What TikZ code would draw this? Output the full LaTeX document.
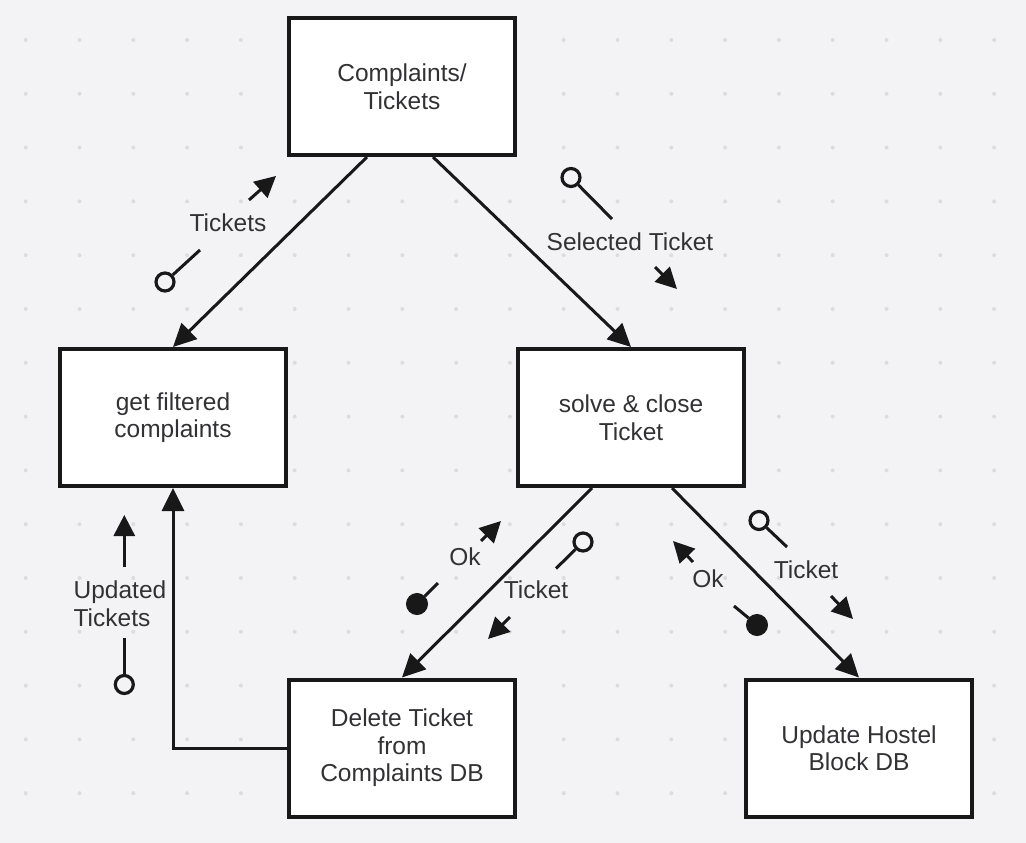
\documentclass[tikz,border=0pt]{standalone}
\usepackage{fontspec}
\setmainfont{Liberation Sans}
\usetikzlibrary{arrows.meta}
\definecolor{bg}{RGB}{243,243,245}
\definecolor{griddot}{RGB}{220,220,224}
\definecolor{ink}{RGB}{24,24,24}
\definecolor{txt}{RGB}{50,50,52}
\tikzset{
  procbox/.style={draw=ink, line width=4pt, fill=white, minimum width=226pt, minimum height=137pt, inner sep=0pt, align=center, text=txt, font=\fontsize{24.5pt}{27.5pt}\selectfont},
  conn/.style={draw=ink, line width=3pt, -{Triangle[length=23pt,width=22pt]}},
  lbl/.style={text=txt, font=\fontsize{24.5pt}{28pt}\selectfont, inner sep=0pt},
  opencirc/.style={circle, draw=ink, line width=3.2pt, fill=bg, minimum size=18pt, inner sep=0pt},
  fullcirc/.style={circle, fill=ink, draw=ink, line width=1pt, minimum size=21pt, inner sep=0pt},
  cline/.style={draw=ink, line width=3pt},
  flow/.style={draw=ink, line width=3pt, -{Triangle[length=21pt,width=21pt]}}
}
\begin{document}
\begin{tikzpicture}[x=1pt,y=-1pt]
\useasboundingbox (0,0) rectangle (1026,843);
\fill[bg] (0,0) rectangle (1026,843);
\foreach \i in {0,...,18}{
  \foreach \j in {0,...,14}{
    \fill[griddot] (25.7+53.8*\i, 40+53.8*\j) circle (2pt);
  }
}
% boxes
\node[procbox] (cmp) at (402,86.5) {Complaints/\\Tickets};
\node[procbox] (gf) at (173,417.5) {get filtered\\complaints};
\node[procbox] (sc) at (631,417.5) {solve \& close\\Ticket};
\node[procbox] (del) at (402,748) {Delete Ticket\\from\\Complaints DB};
\node[procbox] (upd) at (859,748) {Update Hostel\\Block DB};
% connectors
\draw[conn] ([xshift=-35pt]cmp.south) -- (gf.north);
\draw[conn] ([xshift=31pt]cmp.south) -- (sc.north);
\draw[conn] ([xshift=-39pt]sc.south) -- (del.north);
\draw[conn] ([xshift=41pt]sc.south) -- (upd.north);
\draw[conn] (del.west) -| (gf.south);
% couple: Tickets
\node[opencirc] (c1) at (165,282) {};
\coordinate (e1) at (200,250);
\draw[cline] (c1) -- (e1);
\node[lbl] (l1) at (228,222.5) {Tickets};
\coordinate (a1s) at (249,200);
\coordinate (a1e) at (276,176);
\draw[flow] (a1s) -- (a1e);
% couple: Selected Ticket
\node[opencirc] (c2) at (571,177.5) {};
\coordinate (e2) at (612,219);
\draw[cline] (c2) -- (e2);
\node[lbl] (l2) at (630,242) {Selected Ticket};
\coordinate (a2s) at (655,267);
\coordinate (a2e) at (677,289);
\draw[flow] (a2s) -- (a2e);
% couple: Ok (left)
\node[fullcirc] (c3) at (417,604) {};
\coordinate (e3) at (438,583);
\draw[cline] (c3) -- (e3);
\node[lbl] (l3) at (465,557) {Ok};
\coordinate (a3s) at (481,541);
\coordinate (a3e) at (501,521);
\draw[flow] (a3s) -- (a3e);
% couple: Ticket (left)
\node[opencirc] (c4) at (583,542) {};
\coordinate (e4) at (556,568.5);
\draw[cline] (c4) -- (e4);
\node[lbl] (l4) at (536,590) {Ticket};
\coordinate (a4s) at (510,617);
\coordinate (a4e) at (488,639);
\draw[flow] (a4s) -- (a4e);
% couple: Ticket (right)
\node[opencirc] (c5) at (759,520.5) {};
\coordinate (e5) at (787,547);
\draw[cline] (c5) -- (e5);
\node[lbl] (l5) at (806,570) {Ticket};
\coordinate (a5s) at (831,596);
\coordinate (a5e) at (853,619);
\draw[flow] (a5s) -- (a5e);
% couple: Ok (right)
\node[fullcirc] (c6) at (757,625) {};
\coordinate (e6) at (734,606);
\draw[cline] (c6) -- (e6);
\node[lbl] (l6) at (708,579) {Ok};
\coordinate (a6s) at (693,562);
\coordinate (a6e) at (673,541);
\draw[flow] (a6s) -- (a6e);
% couple: Updated Tickets
\node[opencirc] (c7) at (124.3,684.5) {};
\coordinate (e7) at (124.3,638);
\draw[cline] (c7) -- (e7);
\node[lbl, align=left] (l7) at (120,603.5) {Updated\\Tickets};
\coordinate (a7s) at (124.3,567);
\coordinate (a7e) at (124.3,515);
\draw[flow] (a7s) -- (a7e);
\end{tikzpicture}
\end{document}
